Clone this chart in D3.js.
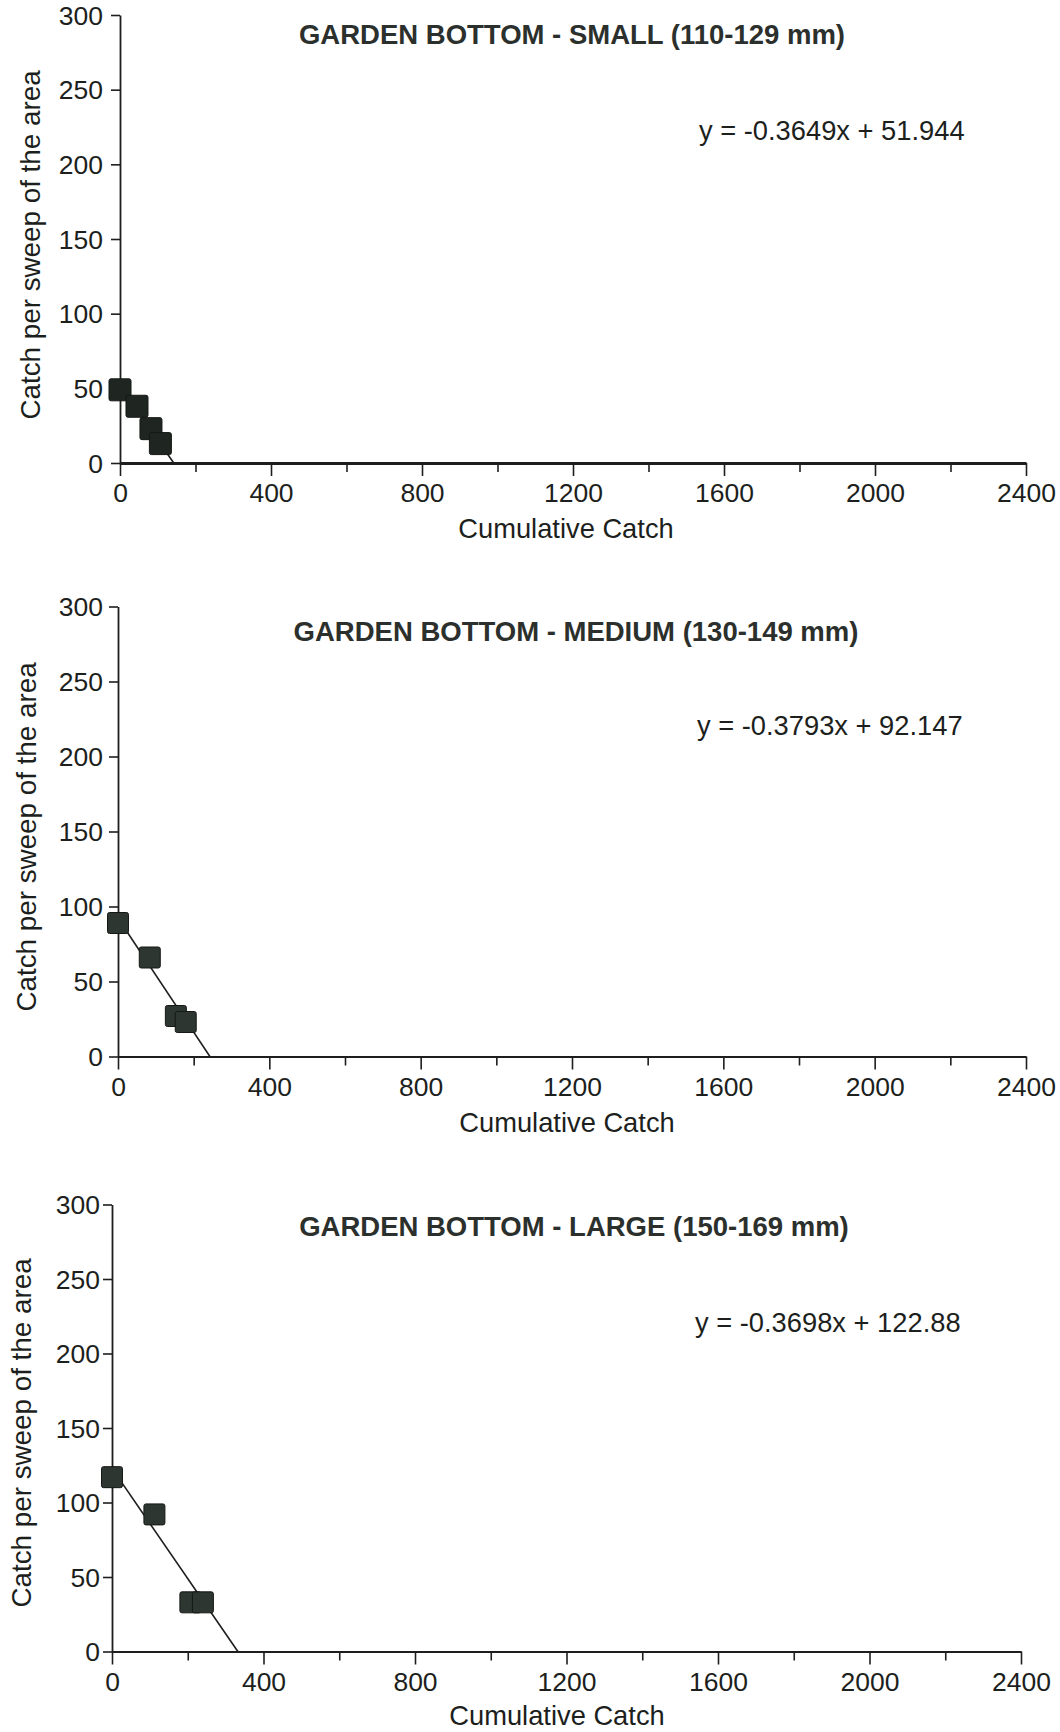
<!DOCTYPE html>
<html>
<head>
<meta charset="utf-8">
<script src="https://cdn.jsdelivr.net/npm/d3@7"></script>
<style>
  html, body { margin: 0; padding: 0; background: #ffffff; }
  svg { display: block; }
  text { font-family: "Liberation Sans", Arial, Helvetica, sans-serif; fill: #1f211f; }
</style>
</head>
<body>
<svg id="chart" width="1060" height="1732"></svg>
<script>
// Leslie depletion plots: catch per sweep against cumulative catch, by size class.
const titles = [
  "GARDEN BOTTOM - SMALL (110-129 mm)",
  "GARDEN BOTTOM - MEDIUM (130-149 mm)",
  "GARDEN BOTTOM - LARGE (150-169 mm)"
];
const xTitle = "Cumulative Catch";
const yTitle = "Catch per sweep of the area";

const xTicks = [0, 400, 800, 1200, 1600, 2000, 2400];
const xMinorTicks = [200, 600, 1000, 1400, 1800, 2200];
const yTicks = [0, 50, 100, 150, 200, 250, 300];

// cumulative catch before each sweep, and catch in that sweep
const smallCum = [0, 45, 82, 107];
const smallCatch = [49, 38, 23, 13];
const mediumCum = [0, 84, 153, 179];
const mediumCatch = [89, 66, 27, 23];
const largeCum = [0, 112, 207, 240];
const largeCatch = [117, 92, 33, 33];

// fitted regression lines
const slopes = [-0.3649, -0.3793, -0.3698];
const intercepts = [51.944, 92.147, 122.88];

const series = [
  { x: smallCum, y: smallCatch },
  { x: mediumCum, y: mediumCatch },
  { x: largeCum, y: largeCatch }
];

// panel placement on the page
const layout = [
  { left: 120, right: 1026, top: 15,     bottom: 463,    labelGap: 17, titleX: 572, titleY: 44,   eqX: 699, eqY: 140,  xtX: 566, xtY: 538,  ytX: 40, ytY: 245,  axisW: 3.2 },
  { left: 118, right: 1026, top: 606.5,  bottom: 1056.5, labelGap: 15, titleX: 576, titleY: 641,  eqX: 697, eqY: 735,  xtX: 567, xtY: 1132, ytX: 36, ytY: 837,  axisW: 1.8 },
  { left: 112, right: 1021, top: 1204.5, bottom: 1651.5, labelGap: 12, titleX: 574, titleY: 1236, eqX: 695, eqY: 1332, xtX: 557, xtY: 1725, ytX: 31, ytY: 1433, axisW: 1.8 }
];

const svg = d3.select("#chart");
const ink = "#1d1f1d";

layout.forEach((L, i) => {
  const x = d3.scaleLinear().domain([0, 2400]).range([L.left, L.right]);
  const y = d3.scaleLinear().domain([0, 300]).range([L.bottom, L.top]);
  const g = svg.append("g");

  // minor x ticks (unlabelled)
  const minor = g.append("g")
    .attr("transform", `translate(0,${L.bottom})`)
    .call(d3.axisBottom(x).tickValues(xMinorTicks).tickSize(9).tickSizeOuter(0).tickFormat(""));
  minor.select(".domain").remove();

  // major x axis
  const xa = g.append("g")
    .attr("transform", `translate(0,${L.bottom})`)
    .call(d3.axisBottom(x).tickValues(xTicks).tickSize(13).tickSizeOuter(0).tickFormat(d3.format("d")));
  xa.selectAll("text").attr("y", 39).attr("dy", 0)
    .style("font-size", "26.5px").style("fill", ink);

  // y axis
  const ya = g.append("g")
    .attr("transform", `translate(${L.left},0)`)
    .call(d3.axisLeft(y).tickValues(yTicks).tickSize(9).tickSizeOuter(0));
  ya.selectAll("text").attr("x", -L.labelGap).attr("dy", "0.35em")
    .style("font-size", "26.5px").style("fill", ink);

  [minor, xa, ya].forEach(a => {
    a.selectAll("line").attr("stroke", ink).attr("stroke-width", 1.6);
    a.selectAll(".domain").attr("stroke", ink).attr("stroke-width", 1.8);
  });
  xa.select(".domain").attr("stroke-width", L.axisW);

  // regression line from x = 0 to its x-intercept
  const m = slopes[i], b = intercepts[i];
  const xEnd = -b / m;
  const fit = [[0, b], [xEnd, 0]];
  g.append("path")
    .datum(fit)
    .attr("fill", "none")
    .attr("stroke", ink)
    .attr("stroke-width", 1.6)
    .attr("d", d3.line().x(d => x(d[0])).y(d => y(d[1])));

  // observed points
  const pts = series[i].x.map((v, k) => ({ cx: v, cy: series[i].y[k] }));
  const size = i === 0 ? 22 : 21;
  g.selectAll("rect.pt")
    .data(pts)
    .enter().append("rect")
    .attr("class", "pt")
    .attr("x", d => x(d.cx) - size / 2)
    .attr("y", d => y(d.cy) - size / 2)
    .attr("width", size)
    .attr("height", size)
    .attr("rx", 2)
    .attr("fill", i === 0 ? "#1f2621" : "#2e3631")
    .attr("stroke", "#151815")
    .attr("stroke-width", 1);

  // titles and labels
  g.append("text")
    .attr("x", L.titleX).attr("y", L.titleY)
    .attr("text-anchor", "middle")
    .style("font-size", "27.5px").style("font-weight", "bold").style("fill", "#2c302d")
    .text(titles[i]);

  g.append("text")
    .attr("x", L.eqX).attr("y", L.eqY)
    .style("font-size", "27.3px").style("fill", ink)
    .text(`y = ${m}x + ${b}`);

  g.append("text")
    .attr("x", L.xtX).attr("y", L.xtY)
    .attr("text-anchor", "middle")
    .style("font-size", "27.3px").style("fill", ink)
    .text(xTitle);

  g.append("text")
    .attr("transform", `translate(${L.ytX},${L.ytY}) rotate(-90)`)
    .attr("text-anchor", "middle")
    .style("font-size", "27.8px").style("fill", ink)
    .text(yTitle);
});
</script>
</body>
</html>
